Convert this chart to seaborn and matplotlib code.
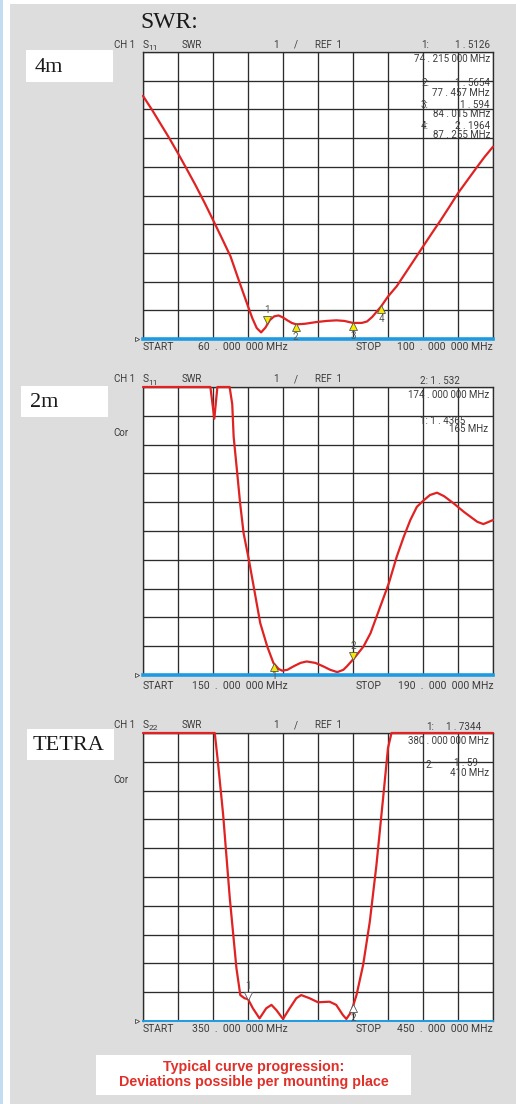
import numpy as np
import pandas as pd
import matplotlib
matplotlib.use("Agg")
import matplotlib.pyplot as plt
from matplotlib.patches import Rectangle
import matplotlib.transforms as mtrans
import seaborn as sns

# ---------------- data ----------------
band_labels = ["4m", "2m", "TETRA"]
start_mhz = [60, 150, 350]
stop_mhz = [100, 190, 450]

freq_4m = [60.0, 61.0, 62.0, 63.0, 64.0, 65.0, 66.0, 67.0, 68.0, 69.0, 70.0, 71.0, 72.0, 72.5,
           73.0, 73.5, 74.0, 74.5, 75.0, 75.5, 76.0, 76.5, 77.0, 77.5, 78.5, 79.8, 81.0, 82.1,
           83.0, 84.0, 85.0, 85.6, 86.2, 87.2, 88.0, 89.0, 90.0, 91.0, 92.0, 93.0, 94.0, 95.0,
           96.0, 97.0, 98.0, 99.0, 100.0]
swr_4m = [9.47, 9.0, 8.5, 8.0, 7.47, 6.92, 6.36, 5.77, 5.15, 4.52, 3.88, 3.0, 2.14, 1.72,
          1.38, 1.23, 1.4, 1.66, 1.79, 1.82, 1.75, 1.65, 1.56, 1.51, 1.53, 1.59, 1.63, 1.65,
          1.63, 1.56, 1.56, 1.61, 1.77, 2.13, 2.48, 2.84, 3.3, 3.76, 4.22, 4.68, 5.13, 5.6,
          6.08, 6.5, 6.92, 7.33, 7.7]

freq_2m = [150.0, 157.7, 158.15, 158.5, 159.9, 160.2, 160.36, 160.74, 161.1, 161.5, 162.1, 162.65,
           163.4, 164.2, 164.9, 165.5, 165.9, 166.5, 167.2, 168.0, 168.7, 169.7, 170.6, 171.4,
           172.2, 172.9, 173.3, 174.15, 175.2, 176.0, 176.7, 178.1, 179.0, 179.8, 180.55, 181.3,
           182.1, 182.8, 183.6, 184.4, 185.5, 186.65, 187.4, 188.2, 188.9, 190.0]
swr_2m = [11.0, 11.0, 9.9, 11.0, 11.0, 10.4, 9.27, 8.1, 6.96, 5.92, 5.0, 4.07,
          2.8, 1.99, 1.42, 1.21, 1.15, 1.18, 1.3, 1.42, 1.47, 1.42, 1.3, 1.18,
          1.1, 1.18, 1.3, 1.59, 1.99, 2.45, 3.03, 4.19, 5.11, 5.8, 6.38, 6.84,
          7.07, 7.25, 7.33, 7.21, 6.96, 6.67, 6.5, 6.32, 6.24, 6.38]

freq_tetra = [350.0, 370.5, 371.4, 372.9, 374.8, 376.7, 377.8, 379.0, 380.0, 381.4, 383.3, 385.2,
              386.7, 388.1, 390.0, 391.9, 393.8, 395.2, 397.6, 400.0, 403.3, 405.2, 407.1, 408.1,
              409.5, 411.0, 412.9, 414.8, 416.7, 418.6, 420.0, 421.0, 450.0]
swr_tetra = [11.0, 11.0, 10.0, 8.16, 5.26, 2.83, 1.9, 1.79, 1.76, 1.44, 1.09, 1.44,
             1.56, 1.38, 1.07, 1.44, 1.79, 1.9, 1.79, 1.65, 1.67, 1.56, 1.21, 1.07,
             1.32, 1.9, 2.95, 4.45, 6.42, 8.74, 10.48, 11.0, 11.0]

# markers: frequency, SWR readout, direction
mk_4m_freq = [74.215, 77.457, 84.015, 87.255]
mk_4m_swr = [1.5126, 1.5654, 1.594, 2.1964]
mk_4m_dir = ["down", "up", "up", "up"]
mk_2m_freq = [165.0, 174.0]
mk_2m_swr = [1.4365, 1.532]
mk_2m_dir = ["up", "down"]
mk_tetra_freq = [380.0, 410.0]
mk_tetra_swr = [1.7344, 1.59]
mk_tetra_dir = ["down", "up"]

# ---------------- style ----------------
sns.set_style("white")
plt.rcParams['font.family'] = ['Roboto', 'DejaVu Sans']

W, H = 516, 1104
fig = plt.figure(figsize=(W / 100, H / 100), dpi=100)
fig.patch.set_facecolor("white")

def fx(x):
    return x / W

def fy(y):
    return 1 - y / H

def rect(x0, y0, x1, y1, color, z=0):
    fig.add_artist(Rectangle((fx(x0), fy(y1)), (x1 - x0) / W, (y1 - y0) / H,
                             transform=fig.transFigure, facecolor=color,
                             edgecolor="none", zorder=z))

def txt(x, y, s, ha="left", size=7.0, color="#3c3c3c", **kw):
    fig.text(fx(x), fy(y), s, ha=ha, va="center", fontsize=size, color=color, **kw)

# backgrounds
rect(10, 4, W, H, "#dddddd", z=-5)
rect(0, 0, 3, H, "#c4dcf2", z=-5)

RED = "#e02222"
BLUE = "#1d9be2"
GRID = "#2c2c2c"

panels = [
    dict(freq=freq_4m, swr=swr_4m, top=52, bot=339, s="11", mk=(mk_4m_freq, mk_4m_swr, mk_4m_dir),
         mfc="#f7ea00", blw=2.6),
    dict(freq=freq_2m, swr=swr_2m, top=387, bot=675, s="11", mk=(mk_2m_freq, mk_2m_swr, mk_2m_dir),
         mfc="#f7ea00", blw=2.6),
    dict(freq=freq_tetra, swr=swr_tetra, top=733, bot=1021, s="22",
         mk=(mk_tetra_freq, mk_tetra_swr, mk_tetra_dir), mfc="white", blw=1.4),
]

L, R = 143, 493
for i, p in enumerate(panels):
    ax = fig.add_axes([fx(L), fy(p["bot"]), (R - L) / W, (p["bot"] - p["top"]) / H])
    ax.set_facecolor("white")
    df = pd.DataFrame({"MHz": p["freq"], "SWR": p["swr"]})
    sns.lineplot(data=df, x="MHz", y="SWR", ax=ax, color=RED, linewidth=1.6,
                 sort=False, clip_on=False, zorder=5)
    f0, f1 = start_mhz[i], stop_mhz[i]
    ax.set_xlim(f0, f1)
    ax.set_ylim(1, 11)
    ax.set_xticks(np.linspace(f0, f1, 11))
    ax.set_yticks(np.arange(1, 12, 1))
    ax.grid(True, color=GRID, linewidth=0.95)
    ax.set_axisbelow(True)
    ax.tick_params(left=False, bottom=False, labelleft=False, labelbottom=False)
    ax.set_xlabel("")
    ax.set_ylabel("")
    for sp in ["top", "left", "right"]:
        ax.spines[sp].set_color(GRID)
        ax.spines[sp].set_linewidth(0.95)
    ax.spines["bottom"].set_color(BLUE)
    ax.spines["bottom"].set_linewidth(p["blw"])
    ax.spines["bottom"].set_zorder(6)
    # reference position indicator
    ax.plot([-0.016], [0.0], marker=">", ms=3, mfc="white", mec="#444444", mew=0.6,
            transform=ax.transAxes, clip_on=False)
    # markers
    mf, ms_, md = p["mk"]
    for k, (xv, yv, d) in enumerate(zip(mf, ms_, md)):
        msz = 6
        off = -msz / 2 if d == "up" else msz / 2
        tr = mtrans.offset_copy(ax.transData, fig=fig, x=0, y=off, units="points")
        ax.plot([xv], [yv], marker="^" if d == "up" else "v", ms=msz, mfc=p["mfc"],
                mec="#555555", mew=0.6, transform=tr, clip_on=False, zorder=7)
        ax.annotate(str(k + 1), (xv, yv), xytext=(0, -10 if d == "up" else 10),
                    textcoords="offset points", ha="center", va="center",
                    fontsize=7, color="#555555", annotation_clip=False, zorder=8)

    # header row
    hy = p["top"] - 7.5
    txt(114, hy, "CH 1")
    txt(143, hy, "S", size=7.4)
    txt(148.5, hy + 3, p["s"], size=6)
    txt(182, hy, "SWR")
    txt(273, hy, "1")
    txt(294, hy, "/")
    txt(315, hy, "REF  1")
    # footer row
    fy_ = p["bot"] + (8 if i != 1 else 11)
    txt(143, fy_, "START", size=7.5)
    txt(288, fy_, f"{f0}  .  000  000 MHz", ha="right", size=7.5)
    txt(356, fy_, "STOP", size=7.5)
    txt(493, fy_, f"{f1}  .  000  000 MHz", ha="right", size=7.5)

# marker readouts, panel 1
txt(421, 44.5, "1:")
txt(490, 44.5, "1 . 5126", ha="right")
txt(490, 59, "74 . 215 000 MHz", ha="right")
txt(421, 83, "2:")
txt(490, 83, "1 . 5654", ha="right")
txt(490, 92.7, "77 . 457 MHz", ha="right")
txt(421, 104.7, "3:")
txt(490, 104.7, "1 . 594", ha="right")
txt(490, 114, "84 . 015 MHz", ha="right")
txt(421, 126, "4:")
txt(490, 126, "2 . 1964", ha="right")
txt(490, 135.3, "87 . 255 MHz", ha="right")

# panel 2
txt(420, 380.5, "2: 1 . 532")
txt(489, 395, "174 . 000 000 MHz", ha="right")
txt(420, 420.7, "1: 1 . 4365")
txt(488, 429.3, "165 MHz", ha="right")
txt(113, 433, "Cor")

# panel 3
txt(426, 726.5, "1:")
txt(481, 726.5, "1 . 7344", ha="right")
txt(489, 741, "380 . 000 000 MHz", ha="right")
txt(426, 765, "2:")
txt(478, 763, "1 . 59", ha="right")
txt(489, 773.3, "410 MHz", ha="right")
txt(113, 780, "Cor")

# title and band boxes
SERIF = ["Liberation Serif", "DejaVu Serif"]
txt(140, 23, "SWR:", size=17, color="#1a1a1a", family=SERIF)
boxes = [(26, 50, 113, 82, 35), (21, 386, 108, 417, 30), (27, 729, 114, 760, 33)]
for (x0, y0, x1, y1, tx), lab in zip(boxes, band_labels):
    rect(x0, y0, x1, y1, "white", z=1)
    txt(tx, (y0 + y1) / 2 + 1, lab, size=16, color="#1a1a1a", family=SERIF, zorder=2)

# note box
rect(96, 1055, 411, 1095, "white", z=1)
SANS_B = ["Liberation Sans", "DejaVu Sans"]
txt(254, 1067, "Typical curve progression:", ha="center", size=10.3, color="#e0302a",
    family=SANS_B, fontweight="bold", zorder=2)
txt(254, 1082, "Deviations possible per mounting place", ha="center", size=10.3,
    color="#e0302a", family=SANS_B, fontweight="bold", zorder=2)

fig.savefig("out.png", dpi=100)
